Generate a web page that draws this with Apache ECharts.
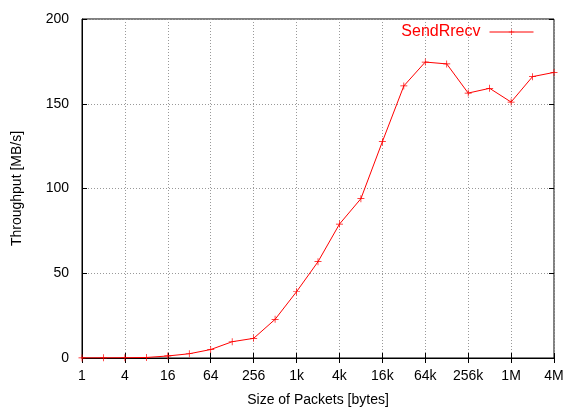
<!DOCTYPE html>
<html>
<head>
<meta charset="utf-8">
<script src="https://cdn.jsdelivr.net/npm/echarts@6/dist/echarts.min.js"></script>
<style>
  html, body { margin: 0; padding: 0; background: #fff; }
  #chart { width: 581px; height: 407px; }
</style>
</head>
<body>
<div id="chart"></div>
<script>
// packet sizes, powers of two from 1 to 4M
const sizes = ['1', '2', '4', '8', '16', '32', '64', '128', '256', '512',
  '1k', '2k', '4k', '8k', '16k', '32k', '64k', '128k', '256k', '512k',
  '1M', '2M', '4M']
// throughput in MB/s
const throughput = [0.05, 0.1, 0.15, 0.3, 1.2, 2.5, 5, 9.6, 11.6, 22.8,
  39.1, 56.8, 79, 94, 127.6, 160.5, 174.6, 173.5, 156.3, 159.1,
  151, 166, 168.5]
const yTicks = [0, 50, 100, 150, 200]

const black = '#000000'
const font = 'Liberation Sans, Arial, sans-serif'
const plus = 'path://M0,4.5H10V5.5H0Z M4.5,0H5.5V10H4.5Z'
const grid = { type: [1, 2], color: '#999999', width: 1 }

const chart = echarts.init(document.getElementById('chart'))
const option = {
  animation: false,
  textStyle: { fontFamily: font },
  grid: {
    left: 82, right: 27, top: 19, bottom: 49,
    outerBoundsMode: 'none',
    containLabel: false,
    show: true, borderColor: black, borderWidth: 1,
  },
  legend: {
    right: 47, top: 24,
    padding: 0,
    align: 'right',
    itemWidth: 44, itemHeight: 7,
    itemGap: 9,
    lineStyle: { width: 1 },
    textStyle: { color: '#ff0000', fontSize: 16, fontFamily: font, padding: [0, 4, 0, 0] },
    data: ['SendRrecv'],
  },
  xAxis: [
    {
      type: 'category',
      data: sizes,
      boundaryGap: false,
      name: 'Size of Packets [bytes]',
      nameLocation: 'middle',
      nameGap: 35,
      nameTextStyle: { color: black, fontSize: 14 },
      axisLine: { lineStyle: { color: black } },
      axisTick: { inside: true, length: 5, interval: 1, lineStyle: { color: black } },
      axisLabel: { interval: 1, color: black, fontSize: 14, margin: 11 },
      splitLine: { show: true, interval: 1, lineStyle: grid },
    },
    {
      type: 'category',
      data: sizes,
      boundaryGap: false,
      position: 'top',
      axisLine: { show: false },
      axisTick: { inside: true, length: 5, interval: 1, lineStyle: { color: black } },
      axisLabel: { show: false },
      splitLine: { show: false },
    },
  ],
  yAxis: [
    {
      type: 'value',
      min: yTicks[0],
      max: yTicks[yTicks.length - 1],
      interval: 50,
      name: 'Throughput [MB/s]',
      nameLocation: 'middle',
      nameGap: 58,
      nameTextStyle: { color: black, fontSize: 14 },
      axisLine: { show: true, lineStyle: { color: black } },
      axisTick: { show: true, inside: true, length: 5, lineStyle: { color: black } },
      axisLabel: { color: black, fontSize: 14, margin: 13 },
      splitLine: { show: true, lineStyle: grid },
    },
    {
      type: 'value',
      min: yTicks[0],
      max: yTicks[yTicks.length - 1],
      interval: 50,
      position: 'right',
      axisLine: { show: false },
      axisTick: { show: true, inside: true, length: 5, lineStyle: { color: black } },
      axisLabel: { show: false },
      splitLine: { show: false },
    },
  ],
  series: [
    {
      name: 'SendRrecv',
      type: 'line',
      data: throughput,
      xAxisIndex: 0,
      yAxisIndex: 0,
      symbol: plus,
      symbolSize: 7,
      showAllSymbol: true,
      color: '#ff0000',
      lineStyle: { width: 1, color: '#ff0000' },
      itemStyle: { color: '#ff0000' },
    },
  ],
}
chart.setOption(option)
</script>
</body>
</html>
